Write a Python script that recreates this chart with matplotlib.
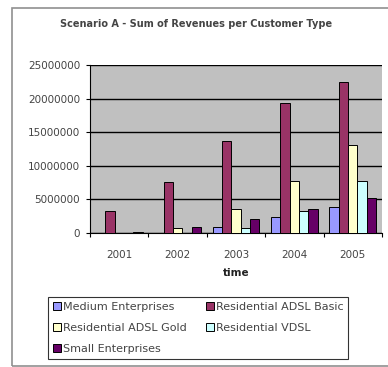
import numpy as np
import matplotlib
matplotlib.use('Agg')
import matplotlib.pyplot as plt
from matplotlib.patches import Rectangle

years = ['2001', '2002', '2003', '2004', '2005']
series_names = ['Medium Enterprises', 'Residential ADSL Basic',
                'Residential ADSL Gold', 'Residential VDSL', 'Small Enterprises']
medium = [0, 50000, 900000, 2400000, 3900000]
adsl_basic = [3300000, 7600000, 13700000, 19300000, 22500000]
adsl_gold = [0, 800000, 3500000, 7800000, 13100000]
vdsl = [0, 50000, 800000, 3200000, 7700000]
small = [200000, 900000, 2100000, 3500000, 5200000]
colors = ['#9999FF', '#993366', '#FFFFCC', '#CCFFFF', '#660066']

W, H = 388., 367.
fig = plt.figure(figsize=(3.88, 3.67), dpi=100)
fig.patch.set_facecolor('white')
# outer chart frame
fig.patches.append(Rectangle((12/W, 1/H), 1.2, 358/H, transform=fig.transFigure,
                             fill=False, edgecolor='#909090', linewidth=1.2))

ax = fig.add_axes([90/W, 1 - 233/H, 292/W, 168/H])
ax.set_facecolor('#C0C0C0')

ind = np.arange(len(years))
width = 0.16
allvals = [medium, adsl_basic, adsl_gold, vdsl, small]
rects = []
for i, vals in enumerate(allvals):
    r = ax.bar(ind + (i - 2) * width, vals, width, color=colors[i],
               edgecolor='black', linewidth=0.7, zorder=3)
    rects.append(r)

fs = 7.5
ax.set_xlim(-0.5, 4.5)
ax.set_ylim(0, 25000000)
yt = np.arange(0, 25000001, 5000000)
ax.set_yticks(yt)
ax.set_yticklabels(['%d' % v for v in yt], fontsize=fs, color='#444444')
ax.yaxis.grid(True, color='black', linewidth=1.0, zorder=1)
ax.set_xticks(ind)
ax.set_xticklabels(years, fontsize=fs, color='#444444')
ax.set_xticks(np.arange(-0.5, 5, 1), minor=True)
ax.tick_params(axis='x', which='major', length=0, pad=12)
ax.tick_params(axis='x', which='minor', length=3, width=0.8)
ax.tick_params(axis='y', length=3, width=0.8, pad=4)
for s in ['top', 'right']:
    ax.spines[s].set_visible(False)
ax.spines['left'].set_linewidth(0.8)
ax.spines['bottom'].set_linewidth(0.8)

ax.set_xlabel('time', fontsize=fs, fontweight='bold', labelpad=6, color='#222222')
fig.text(196/W, 1 - 24/H, 'Scenario A - Sum of Revenues per Customer Type',
         ha='center', va='center', fontsize=7, fontweight='bold', color='#444444')

# row-wise legend order: matplotlib fills columns first
order = [0, 2, 4, 1, 3]
leg = fig.legend([rects[i][0] for i in order], [series_names[i] for i in order],
                 loc='upper left', bbox_to_anchor=(48/W, 1 - 297/H),
                 ncol=2, fontsize=8, frameon=True, fancybox=False,
                 handlelength=0.75, handleheight=0.75, handletextpad=0.15,
                 columnspacing=1.7, borderpad=0.45, labelspacing=1.0,
                 borderaxespad=0)
leg.get_frame().set_edgecolor('black')
leg.get_frame().set_linewidth(0.8)
for t in leg.get_texts():
    t.set_color('#444444')

fig.savefig('out.png', dpi=100)
